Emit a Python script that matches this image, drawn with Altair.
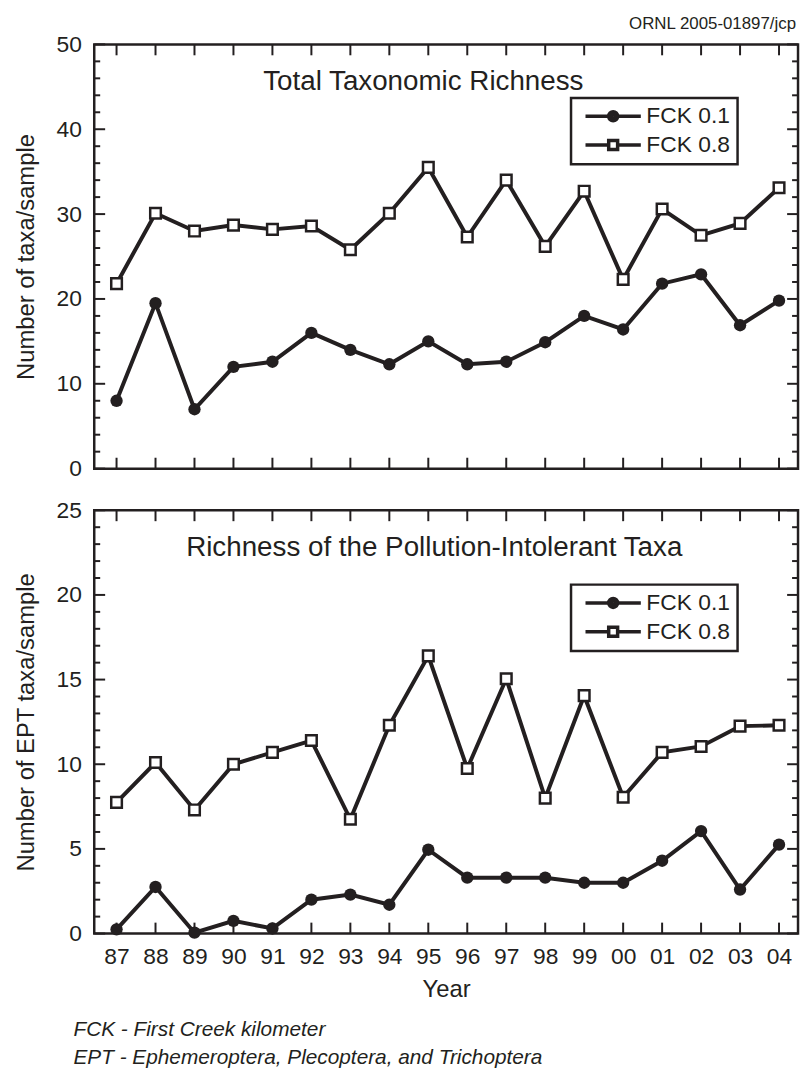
import altair as alt
import pandas as pd

INK = "#231f20"
FONT = "Liberation Sans"

YEARS = ["87", "88", "89", "90", "91", "92", "93", "94", "95",
         "96", "97", "98", "99", "00", "01", "02", "03", "04"]
SERIES = ["FCK 0.1", "FCK 0.8"]

TOTAL_FCK01 = [8.0, 19.5, 7.0, 12.0, 12.6, 16.0, 14.0, 12.3, 15.0,
               12.3, 12.6, 14.9, 18.0, 16.4, 21.8, 22.9, 16.9, 19.8]
TOTAL_FCK08 = [21.8, 30.1, 28.0, 28.7, 28.2, 28.6, 25.8, 30.1, 35.5,
               27.3, 34.0, 26.2, 32.7, 22.3, 30.6, 27.5, 28.9, 33.1]
EPT_FCK01 = [0.25, 2.75, 0.05, 0.75, 0.3, 2.0, 2.3, 1.7, 4.95,
             3.3, 3.3, 3.3, 3.0, 3.0, 4.3, 6.05, 2.6, 5.25]
EPT_FCK08 = [7.75, 10.1, 7.3, 10.0, 10.7, 11.4, 6.75, 12.3, 16.4,
             9.75, 15.05, 8.0, 14.05, 8.05, 10.7, 11.05, 12.25, 12.3]

TOP_MAJOR = [0, 10, 20, 30, 40, 50]
TOP_MINOR = [v for v in range(0, 51, 2) if v % 10 != 0]
BOT_MAJOR = [0, 5, 10, 15, 20, 25]
BOT_MINOR = [v for v in range(0, 26) if v % 5 != 0]

TOP_TITLE = "Total Taxonomic Richness"
BOT_TITLE = "Richness of the Pollution-Intolerant Taxa"
TOP_YTITLE = "Number of taxa/sample"
BOT_YTITLE = "Number of EPT taxa/sample"
XTITLE = "Year"
CREDIT = ["ORNL 2005-01897/jcp"]
FOOTNOTES = ["FCK - First Creek kilometer",
             "EPT - Ephemeroptera, Plecoptera, and Trichoptera"]

W = 710
H_TOP = 428
H_BOT = 427

# legend glyphs: line segments with a marker in the middle (unit box -1..1)
_DISK = "".join(
    f"M{r},0A{r},{r},0,1,1,-{r},0A{r},{r},0,1,1,{r},0Z"
    for r in (1, 0.68, 0.36, 0.08)
)
CIRCLE_PATH = "M-6.2,0L-1,0M1,0L6.2,0" + _DISK
SQUARE_PATH = "M-6.2,0L-1,0M1,0L6.2,0M-1,-1L1,-1L1,1L-1,1Z"


def long_df(a, b):
    rows = []
    for y, v in zip(YEARS, a):
        rows.append({"year": y, "series": SERIES[0], "value": v})
    for y, v in zip(YEARS, b):
        rows.append({"year": y, "series": SERIES[1], "value": v})
    return pd.DataFrame(rows)


def panel(df, ymax, major, minor, title, title_x, ytitle, height, legend_y,
          bottom):
    xscale = alt.Scale(type="point", padding=0.53, align=0.54)
    yscale = alt.Scale(domain=[0, ymax], nice=False, zero=True)
    if bottom:
        xaxis = alt.Axis(title=XTITLE, labelPadding=12, titlePadding=10,
                         labelAngle=0)
    else:
        xaxis = None
    yaxis = alt.Axis(values=major, title=ytitle, labelPadding=13,
                     titlePadding=18)

    X = alt.X("year:N", sort=YEARS, scale=xscale, axis=xaxis)
    Y = alt.Y("value:Q", scale=yscale, axis=yaxis)

    ydf_major = pd.DataFrame({"value": major})
    ydf_minor = pd.DataFrame({"value": minor})
    xdf = pd.DataFrame({"year": YEARS})

    layers = []
    for d, ln in ((ydf_major, 11), (ydf_minor, 6)):
        layers.append(alt.Chart(d).mark_rule(color=INK, strokeWidth=2).encode(
            y=Y, x=alt.value(0), x2=alt.value(ln)))
        layers.append(alt.Chart(d).mark_rule(color=INK, strokeWidth=2).encode(
            y=Y, x=alt.value(W - ln), x2=alt.value(W)))
    layers.append(alt.Chart(xdf).mark_rule(color=INK, strokeWidth=2).encode(
        x=X, y=alt.value(0), y2=alt.value(11)))
    layers.append(alt.Chart(xdf).mark_rule(color=INK, strokeWidth=2).encode(
        x=X, y=alt.value(height - 11), y2=alt.value(height)))

    lines = alt.Chart(df).mark_line(color=INK, strokeWidth=4).encode(
        x=X, y=Y, detail="series:N")
    circles = alt.Chart(df).transform_filter(
        alt.datum.series == SERIES[0]
    ).mark_point(shape="circle", filled=True, color=INK, size=155,
                 opacity=1).encode(x=X, y=Y)
    squares = alt.Chart(df).transform_filter(
        alt.datum.series == SERIES[1]
    ).mark_point(shape="square", filled=True, fill="white", stroke=INK,
                 strokeWidth=2.5, size=115, opacity=1).encode(x=X, y=Y)

    leg = alt.Legend(title=None, orient="none", legendX=481, legendY=legend_y,
                     symbolSize=81, symbolStrokeColor=INK,
                     symbolStrokeWidth=3.5, symbolOpacity=1, symbolOffset=24,
                     labelOffset=22, strokeColor=INK, padding=7,
                     rowPadding=5, labelFontSize=23, labelFont=FONT,
                     labelColor=INK, labelExpr="datum.label + ' '")
    legend_layer = alt.Chart(pd.DataFrame({"series": SERIES})).transform_filter(
        "false"
    ).mark_point(filled=False, opacity=1, color=INK, strokeWidth=3.5).encode(
        shape=alt.Shape("series:N",
                        scale=alt.Scale(domain=SERIES,
                                        range=[CIRCLE_PATH, SQUARE_PATH]),
                        legend=leg),
    )

    ttl = alt.Chart(pd.DataFrame({"t": [title]})).mark_text(
        align="center", baseline="alphabetic", fontSize=28, font=FONT,
        color=INK).encode(x=alt.value(title_x), y=alt.value(46), text="t:N")

    layers += [lines, circles, squares, legend_layer, ttl]

    if not bottom:
        credit = alt.Chart(pd.DataFrame({"t": CREDIT})).mark_text(
            align="right", baseline="top", fontSize=17, font=FONT,
            color=INK).encode(x=alt.value(W - 2), y=alt.value(-29),
                              text="t:N")
        layers.append(credit)
    else:
        foot = alt.Chart(pd.DataFrame({"t": ["\n".join(FOOTNOTES)]})).mark_text(
            align="left", baseline="alphabetic", fontSize=21, font=FONT,
            fontStyle="italic", color=INK, lineBreak="\n",
            lineHeight=29).encode(x=alt.value(-21), y=alt.value(530),
                                  text="t:N")
        layers.append(foot)

    return alt.layer(*layers).properties(width=W, height=height)


top = panel(long_df(TOTAL_FCK01, TOTAL_FCK08), 50, TOP_MAJOR, TOP_MINOR,
            TOP_TITLE, 332, TOP_YTITLE, H_TOP, 54, False)
bot = panel(long_df(EPT_FCK01, EPT_FCK08), 25, BOT_MAJOR, BOT_MINOR,
            BOT_TITLE, 343, BOT_YTITLE, H_BOT, 75, True)

chart = alt.vconcat(top, bot, spacing=15).resolve_scale(
    shape="independent"
).properties(
    padding={"left": 5, "top": 0, "right": 0, "bottom": 0},
    background="white",
).configure_view(
    stroke=INK, strokeWidth=2.5
).configure_axis(
    labelFont=FONT, titleFont=FONT, labelColor=INK, titleColor=INK,
    labelFontSize=23, titleFontSize=24, titleFontWeight="normal",
    grid=False, domain=False, ticks=False
).configure_legend(
    strokeWidth=2.5
)

chart.save("out.html", embed_options={"renderer": "svg", "actions": False})
